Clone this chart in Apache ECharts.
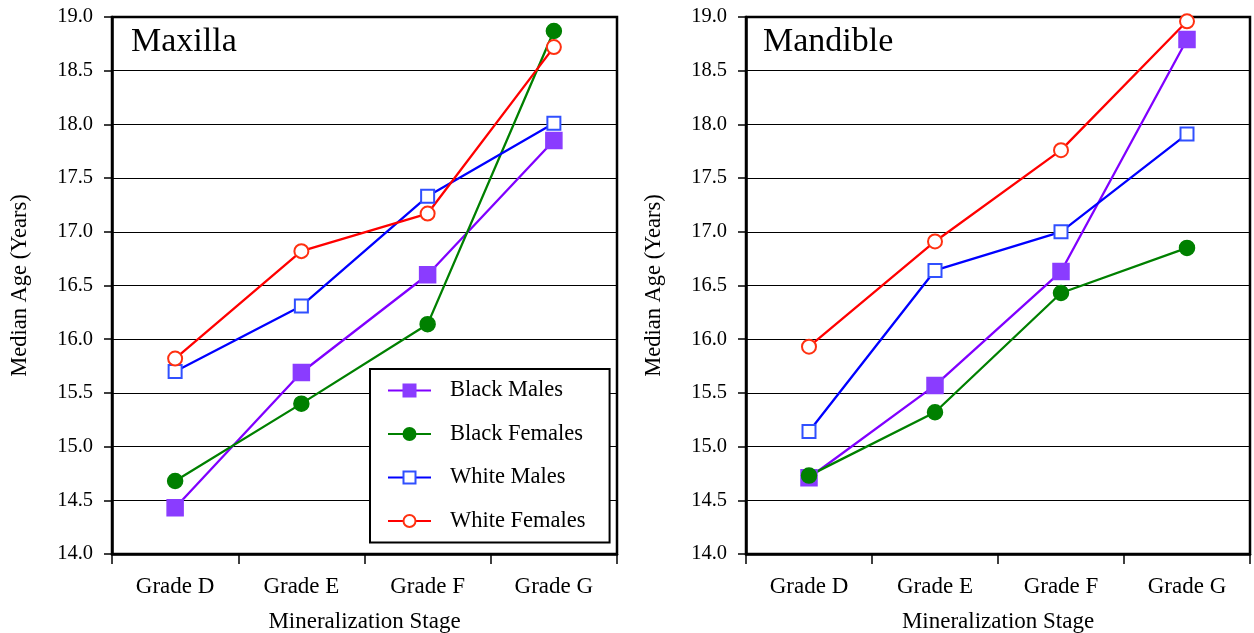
<!DOCTYPE html>
<html><head><meta charset="utf-8">
<script src="https://cdn.jsdelivr.net/npm/echarts@6/dist/echarts.min.js"></script>
<style>html,body{margin:0;padding:0;background:#fff}#c{width:1254px;height:633px}</style>
</head><body><div id="c"></div>
<script>
const categories = ['Grade D', 'Grade E', 'Grade F', 'Grade G'];
const seriesNames = ['Black Males', 'Black Females', 'White Males', 'White Females'];
const yTicks = [14.0, 19.0, 0.5];
// Maxilla
const maxBlackMales = [14.43, 15.69, 16.60, 17.85];
const maxBlackFemales = [14.68, 15.40, 16.14, 18.87];
const maxWhiteMales = [15.70, 16.31, 17.33, 18.01];
const maxWhiteFemales = [15.82, 16.82, 17.17, 18.72];
// Mandible
const manBlackMales = [14.71, 15.57, 16.63, 18.79];
const manBlackFemales = [14.73, 15.32, 16.43, 16.85];
const manWhiteMales = [15.14, 16.64, 17.00, 17.91];
const manWhiteFemales = [15.93, 16.91, 17.76, 18.96];

const FONT = '"Liberation Serif", "DejaVu Serif", serif';
const styles = [
  {color: '#8a3cff', line: '#8000ff', symbol: 'rect', size: 16},
  {color: '#008000', line: '#008000', symbol: 'circle', size: 15},
  {color: '#3050ff', line: '#0000ff', symbol: 'emptyRect', size: 13},
  {color: '#ff3010', line: '#ff0000', symbol: 'emptyCircle', size: 14}
];
function mk(name, data, idx, gi) {
  const s = styles[idx];
  return {
    type: 'line', name: name, data: data, xAxisIndex: gi, yAxisIndex: gi,
    symbol: s.symbol, symbolSize: s.size, showAllSymbol: true,
    lineStyle: {color: s.line, width: 2.3},
    itemStyle: {color: s.color, borderColor: s.color, borderWidth: 1.5},
    emphasis: {disabled: true}, animation: false, z: 3
  };
}
const grids = [
  {left: 112, top: 17, width: 505, height: 537},
  {left: 746, top: 17, width: 504, height: 537}
];
function xAx(gi) {
  return {
    type: 'category', gridIndex: gi, data: categories, boundaryGap: true,
    name: 'Mineralization Stage', nameLocation: 'middle', nameGap: 56,
    nameTextStyle: {fontFamily: FONT, fontSize: 23, color: '#000'},
    axisLine: {lineStyle: {color: '#000', width: 2.5}},
    axisTick: {show: true, length: 10, alignWithLabel: false, lineStyle: {color: '#000', width: 1.5}},
    axisLabel: {fontFamily: FONT, fontSize: 23, color: '#000', margin: 21}
  };
}
function yAx(gi) {
  return {
    type: 'value', gridIndex: gi, min: yTicks[0], max: yTicks[1], interval: yTicks[2],
    name: 'Median Age (Years)', nameLocation: 'middle', nameGap: 80, nameRotate: 90,
    nameTextStyle: {fontFamily: FONT, fontSize: 22.5, color: '#000'},
    axisLine: {show: true, lineStyle: {color: '#000', width: 2.5}},
    axisTick: {show: true, length: 8, lineStyle: {color: '#000', width: 1.5}},
    axisLabel: {fontFamily: FONT, fontSize: 20.5, color: '#000', margin: 19, formatter: v => v.toFixed(1)},
    splitLine: {show: true, lineStyle: {color: '#000', width: 1.2}}
  };
}
const chart = echarts.init(document.getElementById('c'), null, {renderer: 'canvas'});
chart.setOption({
  backgroundColor: '#fff',
  animation: false,
  grid: grids.map(g => Object.assign({show: true, containLabel: false, outerBoundsMode: 'none', borderColor: '#000', borderWidth: 2.5, backgroundColor: 'transparent'}, g)),
  title: [
    {text: 'Maxilla', left: 131, top: 25, padding: 0, textStyle: {fontFamily: FONT, fontSize: 34, fontWeight: 'normal', color: '#000'}},
    {text: 'Mandible', left: 763, top: 25, padding: 0, textStyle: {fontFamily: FONT, fontSize: 34, fontWeight: 'normal', color: '#000'}}
  ],
  legend: {
    show: true, orient: 'vertical', left: 370, top: 369,
    data: seriesNames,
    backgroundColor: '#fff', borderColor: '#000', borderWidth: 2,
    padding: [10, 24, 10, 17], itemGap: 20.5, itemWidth: 43, itemHeight: 15,
    textStyle: {fontFamily: FONT, fontSize: 22.5, color: '#000', lineHeight: 20, padding: [0, 0, 0, 14]},
    selectedMode: false
  },
  series: [
    mk(seriesNames[0], maxBlackMales, 0, 0),
    mk(seriesNames[1], maxBlackFemales, 1, 0),
    mk(seriesNames[2], maxWhiteMales, 2, 0),
    mk(seriesNames[3], maxWhiteFemales, 3, 0),
    mk(seriesNames[0], manBlackMales, 0, 1),
    mk(seriesNames[1], manBlackFemales, 1, 1),
    mk(seriesNames[2], manWhiteMales, 2, 1),
    mk(seriesNames[3], manWhiteFemales, 3, 1)
  ],
  xAxis: [xAx(0), xAx(1)],
  yAxis: [yAx(0), yAx(1)]
});
</script></body></html>
